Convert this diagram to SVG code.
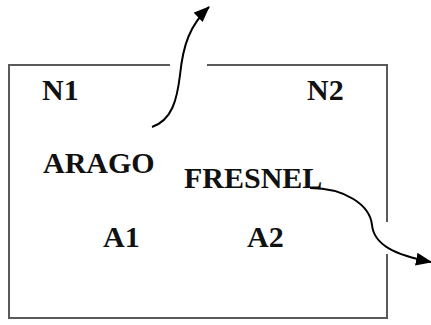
<svg xmlns="http://www.w3.org/2000/svg" width="431" height="325" viewBox="0 0 431 325">
<style>
.lbl{font-family:'Liberation Serif','Times New Roman',serif;font-weight:bold;font-size:30px;fill:#111}
.box{stroke:#5a5a5a;stroke-width:2;fill:none}
.conn{stroke:#000;stroke-width:2;fill:none}
</style>
<defs>
<marker id="ah" viewBox="0 0 16 13" refX="15" refY="6.5" markerWidth="8" markerHeight="6.5" orient="auto" markerUnits="strokeWidth">
<path d="M0,0 L16,6.5 L0,13 z" fill="#000"/>
</marker>
</defs>
<rect width="431" height="325" fill="#fff"/>
<g id="box">
<path class="box" d="M170,65 H9 V318 H387 V254 M387,222 V65 H207"/>
</g>
<g id="n1"><text class="lbl" x="42" y="100">N1</text></g>
<g id="n2"><text class="lbl" x="307" y="100">N2</text></g>
<g id="arago"><text class="lbl" x="43" y="173">ARAGO</text></g>
<g id="fresnel"><text class="lbl" x="184" y="188">FRESNEL</text></g>
<g id="a1"><text class="lbl" x="103" y="247">A1</text></g>
<g id="a2"><text class="lbl" x="247" y="247">A2</text></g>
<g id="connectors">
<path class="conn" marker-end="url(#ah)" d="M152,127 C172,120 177,100 180,75 C183,45 190,25 209,7"/>
<path class="conn" marker-end="url(#ah)" d="M310,188 C345,188 370,205 372,225 C374,245 395,255 431,262"/>
</g>
</svg>
